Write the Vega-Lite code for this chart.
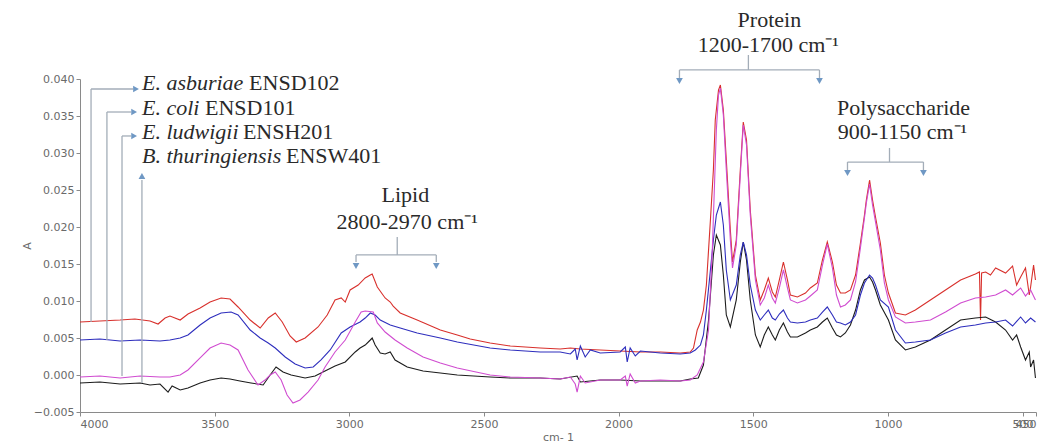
{
  "$schema": "https://vega.github.io/schema/vega-lite/v6.json",
  "width": 956,
  "height": 333,
  "autosize": "none",
  "padding": {"left": 80, "top": 79, "right": 12, "bottom": 33},
  "background": "white",
  "config": {
    "view": {"stroke": null},
    "axis": {
      "grid": false,
      "domainColor": "#8a8a8a",
      "tickColor": "#8a8a8a",
      "tickSize": 4,
      "labelColor": "#6a6a6a",
      "labelFont": "DejaVu Sans",
      "labelFontSize": 11,
      "titleFont": "DejaVu Sans",
      "titleFontSize": 11,
      "titleFontWeight": "normal",
      "titleColor": "#6a6a6a"
    }
  },
  "datasets": {
    "asburiae": [
      {"w":4000,"a":0.00716},{"w":3926,"a":0.0073},{"w":3851,"a":0.00743},{"w":3796,"a":0.00757},{"w":3740,"a":0.0073},{"w":3710,"a":0.00689},{"w":3684,"a":0.0077},{"w":3666,"a":0.00797},{"w":3628,"a":0.00743},{"w":3599,"a":0.00824},{"w":3554,"a":0.00905},{"w":3517,"a":0.00986},{"w":3476,"a":0.01041},{"w":3443,"a":0.01027},{"w":3413,"a":0.00919},{"w":3368,"a":0.00743},{"w":3331,"a":0.00635},{"w":3301,"a":0.0077},{"w":3275,"a":0.00838},{"w":3249,"a":0.00716},{"w":3220,"a":0.00527},{"w":3197,"a":0.00446},{"w":3164,"a":0.005},{"w":3116,"a":0.00649},{"w":3082,"a":0.00811},{"w":3053,"a":0.01014},{"w":3030,"a":0.01041},{"w":3015,"a":0.00986},{"w":2997,"a":0.01149},{"w":2967,"a":0.01216},{"w":2941,"a":0.01311},{"w":2922,"a":0.01351},{"w":2915,"a":0.01365},{"w":2896,"a":0.01189},{"w":2867,"a":0.01041},{"w":2848,"a":0.00986},{"w":2837,"a":0.00932},{"w":2811,"a":0.00838},{"w":2748,"a":0.00743},{"w":2662,"a":0.00608},{"w":2599,"a":0.00541},{"w":2551,"a":0.00486},{"w":2477,"a":0.00432},{"w":2402,"a":0.00392},{"w":2291,"a":0.00365},{"w":2217,"a":0.00351},{"w":2179,"a":0.00365},{"w":2142,"a":0.00351},{"w":2068,"a":0.00338},{"w":1994,"a":0.00324},{"w":1919,"a":0.00311},{"w":1845,"a":0.00311},{"w":1771,"a":0.00297},{"w":1734,"a":0.00311},{"w":1722,"a":0.00365},{"w":1708,"a":0.00608},{"w":1696,"a":0.00716},{"w":1685,"a":0.00878},{"w":1674,"a":0.01216},{"w":1659,"a":0.02095},{"w":1648,"a":0.0277},{"w":1641,"a":0.03446},{"w":1629,"a":0.03851},{"w":1622,"a":0.03919},{"w":1611,"a":0.03581},{"w":1600,"a":0.02905},{"w":1585,"a":0.01959},{"w":1577,"a":0.01527},{"w":1563,"a":0.01824},{"w":1548,"a":0.0277},{"w":1537,"a":0.03419},{"w":1525,"a":0.03176},{"w":1511,"a":0.0223},{"w":1492,"a":0.01351},{"w":1474,"a":0.01014},{"w":1459,"a":0.01149},{"w":1444,"a":0.01311},{"w":1429,"a":0.01122},{"w":1418,"a":0.01054},{"w":1403,"a":0.01284},{"w":1388,"a":0.01527},{"w":1373,"a":0.01284},{"w":1362,"a":0.01081},{"w":1336,"a":0.01054},{"w":1306,"a":0.01108},{"w":1288,"a":0.01176},{"w":1262,"a":0.01243},{"w":1243,"a":0.01554},{"w":1225,"a":0.01797},{"w":1206,"a":0.01527},{"w":1191,"a":0.01216},{"w":1176,"a":0.01108},{"w":1158,"a":0.01108},{"w":1139,"a":0.01149},{"w":1120,"a":0.01351},{"w":1102,"a":0.01784},{"w":1087,"a":0.02162},{"w":1080,"a":0.02365},{"w":1068,"a":0.02635},{"w":1057,"a":0.02365},{"w":1046,"a":0.02135},{"w":1028,"a":0.01784},{"w":1013,"a":0.01351},{"w":998,"a":0.01108},{"w":972,"a":0.00838},{"w":935,"a":0.00811},{"w":898,"a":0.00878},{"w":842,"a":0.01014},{"w":786,"a":0.01149},{"w":730,"a":0.01284},{"w":675,"a":0.01365},{"w":660,"a":0.01392},{"w":656,"a":0.00743},{"w":652,"a":0.01378},{"w":637,"a":0.01392},{"w":619,"a":0.01351},{"w":600,"a":0.01446},{"w":563,"a":0.01378},{"w":537,"a":0.01473},{"w":522,"a":0.01216},{"w":507,"a":0.01324},{"w":489,"a":0.01446},{"w":475,"a":0.01081},{"w":470,"a":0.01189},{"w":459,"a":0.01486},{"w":452,"a":0.01284}
    ],
    "coli": [
      {"w":4000,"a":0.00473},{"w":3926,"a":0.00486},{"w":3851,"a":0.00459},{"w":3777,"a":0.00473},{"w":3703,"a":0.00459},{"w":3666,"a":0.00473},{"w":3628,"a":0.005},{"w":3599,"a":0.00541},{"w":3554,"a":0.00676},{"w":3517,"a":0.0077},{"w":3476,"a":0.00838},{"w":3439,"a":0.00851},{"w":3413,"a":0.00811},{"w":3368,"a":0.00608},{"w":3331,"a":0.005},{"w":3301,"a":0.00432},{"w":3275,"a":0.00365},{"w":3238,"a":0.00243},{"w":3201,"a":0.00149},{"w":3164,"a":0.00095},{"w":3134,"a":0.00108},{"w":3105,"a":0.00203},{"w":3071,"a":0.00338},{"w":3030,"a":0.00568},{"w":2997,"a":0.00649},{"w":2960,"a":0.00716},{"w":2941,"a":0.0077},{"w":2922,"a":0.00838},{"w":2904,"a":0.00811},{"w":2885,"a":0.00743},{"w":2848,"a":0.00676},{"w":2811,"a":0.00635},{"w":2748,"a":0.00568},{"w":2662,"a":0.005},{"w":2599,"a":0.00446},{"w":2477,"a":0.00365},{"w":2402,"a":0.00338},{"w":2291,"a":0.00311},{"w":2217,"a":0.00311},{"w":2179,"a":0.00284},{"w":2161,"a":0.00351},{"w":2154,"a":0.00203},{"w":2142,"a":0.00392},{"w":2124,"a":0.00243},{"w":2105,"a":0.00338},{"w":2068,"a":0.00297},{"w":1994,"a":0.00311},{"w":1975,"a":0.00378},{"w":1968,"a":0.00176},{"w":1957,"a":0.00365},{"w":1938,"a":0.00257},{"w":1919,"a":0.00324},{"w":1845,"a":0.00297},{"w":1771,"a":0.00284},{"w":1734,"a":0.00297},{"w":1715,"a":0.00338},{"w":1696,"a":0.00405},{"w":1685,"a":0.00541},{"w":1674,"a":0.00878},{"w":1659,"a":0.01419},{"w":1648,"a":0.01824},{"w":1637,"a":0.02162},{"w":1622,"a":0.02338},{"w":1611,"a":0.02027},{"w":1600,"a":0.01419},{"w":1585,"a":0.01014},{"w":1563,"a":0.01216},{"w":1548,"a":0.01622},{"w":1537,"a":0.01797},{"w":1525,"a":0.01622},{"w":1511,"a":0.01216},{"w":1492,"a":0.00878},{"w":1474,"a":0.00743},{"w":1459,"a":0.00811},{"w":1444,"a":0.00878},{"w":1429,"a":0.0077},{"w":1418,"a":0.00743},{"w":1403,"a":0.00824},{"w":1388,"a":0.00878},{"w":1373,"a":0.0077},{"w":1362,"a":0.00716},{"w":1336,"a":0.00703},{"w":1306,"a":0.00716},{"w":1288,"a":0.00743},{"w":1262,"a":0.0077},{"w":1243,"a":0.00851},{"w":1225,"a":0.00919},{"w":1206,"a":0.00811},{"w":1191,"a":0.00716},{"w":1176,"a":0.00703},{"w":1158,"a":0.00676},{"w":1139,"a":0.00716},{"w":1120,"a":0.00811},{"w":1102,"a":0.01081},{"w":1087,"a":0.01243},{"w":1068,"a":0.01351},{"w":1057,"a":0.01311},{"w":1046,"a":0.01216},{"w":1028,"a":0.01014},{"w":998,"a":0.00919},{"w":972,"a":0.00608},{"w":935,"a":0.00432},{"w":898,"a":0.00446},{"w":842,"a":0.00473},{"w":786,"a":0.00568},{"w":730,"a":0.00649},{"w":675,"a":0.00676},{"w":637,"a":0.00703},{"w":600,"a":0.00716},{"w":563,"a":0.00743},{"w":537,"a":0.00662},{"w":507,"a":0.00784},{"w":489,"a":0.00703},{"w":470,"a":0.0077},{"w":452,"a":0.00716}
    ],
    "ludwigii": [
      {"w":4000,"a":-0.00027},{"w":3926,"a":-0.00014},{"w":3851,"a":-0.00041},{"w":3777,"a":-0.00014},{"w":3703,"a":-0.00027},{"w":3666,"a":-0.00027},{"w":3628,"a":0.0},{"w":3599,"a":0.00068},{"w":3554,"a":0.0023},{"w":3517,"a":0.00365},{"w":3476,"a":0.00432},{"w":3443,"a":0.00405},{"w":3413,"a":0.00338},{"w":3376,"a":0.00068},{"w":3339,"a":-0.00135},{"w":3313,"a":-0.00068},{"w":3294,"a":0.0},{"w":3275,"a":0.00041},{"w":3253,"a":-0.00068},{"w":3231,"a":-0.0027},{"w":3209,"a":-0.00378},{"w":3183,"a":-0.00338},{"w":3153,"a":-0.0023},{"w":3116,"a":-0.00068},{"w":3090,"a":0.00108},{"w":3053,"a":0.00311},{"w":3015,"a":0.00473},{"w":2978,"a":0.00716},{"w":2956,"a":0.00851},{"w":2941,"a":0.00865},{"w":2911,"a":0.00851},{"w":2896,"a":0.00703},{"w":2867,"a":0.00581},{"w":2830,"a":0.00473},{"w":2785,"a":0.00365},{"w":2726,"a":0.00243},{"w":2662,"a":0.00162},{"w":2599,"a":0.00095},{"w":2477,"a":0.0},{"w":2402,"a":-0.00027},{"w":2291,"a":-0.00041},{"w":2217,"a":-0.00054},{"w":2179,"a":-0.00027},{"w":2161,"a":-0.00122},{"w":2154,"a":-0.0023},{"w":2142,"a":-0.00014},{"w":2124,"a":-0.00108},{"w":2068,"a":-0.00068},{"w":1994,"a":-0.00068},{"w":1975,"a":-0.00014},{"w":1968,"a":-0.00149},{"w":1957,"a":0.00014},{"w":1938,"a":-0.00108},{"w":1919,"a":-0.00081},{"w":1845,"a":-0.00068},{"w":1771,"a":-0.00081},{"w":1734,"a":-0.00068},{"w":1708,"a":0.0},{"w":1685,"a":0.00176},{"w":1666,"a":0.00608},{"w":1652,"a":0.01689},{"w":1637,"a":0.03311},{"w":1629,"a":0.03784},{"w":1622,"a":0.03878},{"w":1611,"a":0.03514},{"w":1600,"a":0.0277},{"w":1585,"a":0.01824},{"w":1577,"a":0.01446},{"w":1563,"a":0.01757},{"w":1548,"a":0.02703},{"w":1537,"a":0.03378},{"w":1525,"a":0.03108},{"w":1511,"a":0.02162},{"w":1492,"a":0.01284},{"w":1474,"a":0.00946},{"w":1459,"a":0.01041},{"w":1444,"a":0.01216},{"w":1429,"a":0.01041},{"w":1418,"a":0.00973},{"w":1403,"a":0.01176},{"w":1388,"a":0.01419},{"w":1373,"a":0.01176},{"w":1362,"a":0.01014},{"w":1336,"a":0.00973},{"w":1306,"a":0.01014},{"w":1288,"a":0.01068},{"w":1262,"a":0.01149},{"w":1243,"a":0.01486},{"w":1225,"a":0.0177},{"w":1206,"a":0.01446},{"w":1191,"a":0.01081},{"w":1176,"a":0.00919},{"w":1158,"a":0.00946},{"w":1139,"a":0.01014},{"w":1120,"a":0.01257},{"w":1102,"a":0.01716},{"w":1087,"a":0.02122},{"w":1080,"a":0.02324},{"w":1068,"a":0.02581},{"w":1057,"a":0.02297},{"w":1046,"a":0.02068},{"w":1028,"a":0.01689},{"w":1013,"a":0.01243},{"w":998,"a":0.01014},{"w":972,"a":0.00784},{"w":935,"a":0.00703},{"w":898,"a":0.00716},{"w":842,"a":0.00743},{"w":786,"a":0.00851},{"w":730,"a":0.00973},{"w":675,"a":0.01041},{"w":637,"a":0.01054},{"w":600,"a":0.01081},{"w":563,"a":0.01149},{"w":537,"a":0.01081},{"w":507,"a":0.01176},{"w":489,"a":0.01068},{"w":470,"a":0.01149},{"w":452,"a":0.01014}
    ],
    "thuringiensis": [
      {"w":4000,"a":-0.00108},{"w":3926,"a":-0.00095},{"w":3851,"a":-0.00122},{"w":3777,"a":-0.00108},{"w":3740,"a":-0.00135},{"w":3703,"a":-0.00122},{"w":3673,"a":-0.0023},{"w":3658,"a":-0.00149},{"w":3628,"a":-0.00203},{"w":3599,"a":-0.00176},{"w":3554,"a":-0.00108},{"w":3517,"a":-0.00068},{"w":3476,"a":-0.00041},{"w":3443,"a":-0.00054},{"w":3406,"a":-0.00081},{"w":3365,"a":-0.00108},{"w":3320,"a":-0.00135},{"w":3294,"a":0.0},{"w":3272,"a":0.00108},{"w":3246,"a":0.00041},{"w":3216,"a":0.0},{"w":3164,"a":-0.00041},{"w":3127,"a":-0.00014},{"w":3105,"a":0.00027},{"w":3053,"a":0.00122},{"w":3015,"a":0.00176},{"w":2978,"a":0.00311},{"w":2960,"a":0.00365},{"w":2941,"a":0.00405},{"w":2922,"a":0.00473},{"w":2915,"a":0.005},{"w":2904,"a":0.00405},{"w":2885,"a":0.00297},{"w":2867,"a":0.00284},{"w":2848,"a":0.00311},{"w":2830,"a":0.00203},{"w":2785,"a":0.00108},{"w":2726,"a":0.00054},{"w":2662,"a":0.00027},{"w":2599,"a":0.0},{"w":2477,"a":-0.00027},{"w":2402,"a":-0.00041},{"w":2291,"a":-0.00041},{"w":2217,"a":-0.00054},{"w":2154,"a":-0.00014},{"w":2142,"a":-0.00095},{"w":2068,"a":-0.00068},{"w":1994,"a":-0.00068},{"w":1919,"a":-0.00081},{"w":1845,"a":-0.00081},{"w":1771,"a":-0.00081},{"w":1734,"a":-0.00054},{"w":1704,"a":-0.00041},{"w":1685,"a":0.00135},{"w":1666,"a":0.00743},{"w":1648,"a":0.01622},{"w":1637,"a":0.01892},{"w":1622,"a":0.01757},{"w":1611,"a":0.01351},{"w":1600,"a":0.00811},{"w":1585,"a":0.00649},{"w":1563,"a":0.01014},{"w":1548,"a":0.01527},{"w":1537,"a":0.01797},{"w":1525,"a":0.01554},{"w":1511,"a":0.01014},{"w":1492,"a":0.00541},{"w":1474,"a":0.00378},{"w":1459,"a":0.00541},{"w":1444,"a":0.00649},{"w":1429,"a":0.00541},{"w":1418,"a":0.00473},{"w":1403,"a":0.00608},{"w":1388,"a":0.00703},{"w":1373,"a":0.00581},{"w":1362,"a":0.00514},{"w":1336,"a":0.00514},{"w":1306,"a":0.00568},{"w":1288,"a":0.00608},{"w":1262,"a":0.00649},{"w":1243,"a":0.00716},{"w":1225,"a":0.0077},{"w":1206,"a":0.00635},{"w":1191,"a":0.00541},{"w":1176,"a":0.00514},{"w":1158,"a":0.00568},{"w":1139,"a":0.00676},{"w":1120,"a":0.00878},{"w":1102,"a":0.01149},{"w":1087,"a":0.01284},{"w":1068,"a":0.01324},{"w":1057,"a":0.01257},{"w":1046,"a":0.01149},{"w":1028,"a":0.00946},{"w":998,"a":0.00743},{"w":972,"a":0.00473},{"w":935,"a":0.00338},{"w":898,"a":0.00378},{"w":842,"a":0.00473},{"w":786,"a":0.00608},{"w":730,"a":0.00743},{"w":675,"a":0.0077},{"w":637,"a":0.00784},{"w":600,"a":0.00716},{"w":563,"a":0.00608},{"w":537,"a":0.00473},{"w":522,"a":0.00541},{"w":507,"a":0.00378},{"w":489,"a":0.00203},{"w":475,"a":0.00311},{"w":470,"a":0.00108},{"w":459,"a":0.00203},{"w":452,"a":-0.00041}
    ],
    "connectors": [
      {"w":3959,"a":0.00716,"w2":3959,"a2":0.03865},
      {"w":3959,"a":0.03865,"w2":3803,"a2":0.03865},
      {"w":3900,"a":0.00473,"w2":3900,"a2":0.03554},
      {"w":3900,"a":0.03554,"w2":3810,"a2":0.03554},
      {"w":3844,"a":-0.00014,"w2":3844,"a2":0.0323},
      {"w":3844,"a":0.0323,"w2":3810,"a2":0.0323},
      {"w":3770,"a":-0.00108,"w2":3770,"a2":0.02635},
      {"w":2822,"a":0.01865,"w2":2822,"a2":0.01622},
      {"w":2975,"a":0.01622,"w2":2677,"a2":0.01622},
      {"w":2975,"a":0.01622,"w2":2975,"a2":0.01527},
      {"w":2677,"a":0.01622,"w2":2677,"a2":0.01527},
      {"w":1518,"a":0.04324,"w2":1518,"a2":0.04122},
      {"w":1774,"a":0.04122,"w2":1254,"a2":0.04122},
      {"w":1774,"a":0.04122,"w2":1774,"a2":0.04014},
      {"w":1254,"a":0.04122,"w2":1254,"a2":0.04014},
      {"w":994,"a":0.03068,"w2":994,"a2":0.02878},
      {"w":1150,"a":0.02878,"w2":868,"a2":0.02878},
      {"w":1150,"a":0.02878,"w2":1150,"a2":0.0277},
      {"w":868,"a":0.02878,"w2":868,"a2":0.0277}
    ],
    "arrowheads": [
      {"w":3792,"a":0.03865,"sh":"triangle-right"},
      {"w":3799,"a":0.03554,"sh":"triangle-right"},
      {"w":3799,"a":0.0323,"sh":"triangle-right"},
      {"w":3770,"a":0.02689,"sh":"triangle-up"},
      {"w":2975,"a":0.01473,"sh":"triangle-down"},
      {"w":2677,"a":0.01473,"sh":"triangle-down"},
      {"w":1774,"a":0.03973,"sh":"triangle-down"},
      {"w":1254,"a":0.03973,"sh":"triangle-down"},
      {"w":1150,"a":0.0273,"sh":"triangle-down"},
      {"w":868,"a":0.0273,"sh":"triangle-down"}
    ],
    "species": [
      {"w":3770,"a":0.03946,"t":"E. asburiae"},
      {"w":3770,"a":0.03608,"t":"E. coli"},
      {"w":3770,"a":0.03284,"t":"E. ludwigii"},
      {"w":3770,"a":0.02959,"t":"B. thuringiensis"}
    ],
    "strains": [
      {"w":3372,"a":0.03946,"t":"ENSD102"},
      {"w":3536,"a":0.03608,"t":"ENSD101"},
      {"w":3395,"a":0.03284,"t":"ENSH201"},
      {"w":3235,"a":0.02959,"t":"ENSW401"}
    ],
    "regions": [
      {"w":2792,"a":0.02432,"t":"Lipid"},
      {"w":2785,"a":0.02068,"t":"2800-2970 cm⁻¹"},
      {"w":1440,"a":0.04797,"t":"Protein"},
      {"w":1444,"a":0.04459,"t":"1200-1700 cm⁻¹"},
      {"w":942,"a":0.03608,"t":"Polysaccharide"},
      {"w":946,"a":0.03284,"t":"900-1150 cm⁻¹"}
    ]
  },
  "encoding": {
    "x": {
      "field": "w", "type": "quantitative",
      "scale": {"domain": [450, 4000], "reverse": true, "nice": false, "zero": false},
      "axis": {"title": "cm- 1", "values": [4000, 3500, 3000, 2500, 2000, 1500, 1000, 500, 450], "format": "d", "titlePadding": 2, "labelOverlap": false}
    },
    "y": {
      "field": "a", "type": "quantitative",
      "scale": {"domain": [-0.005, 0.04], "nice": false, "zero": false},
      "axis": {"title": "A", "values": [-0.005, 0, 0.005, 0.01, 0.015, 0.02, 0.025, 0.03, 0.035, 0.04], "format": ".3f", "titlePadding": 1}
    }
  },
  "layer": [
    {"data": {"name": "asburiae"}, "mark": {"type": "line", "color": "#d8302c", "strokeWidth": 1.1}},
    {"data": {"name": "thuringiensis"}, "mark": {"type": "line", "color": "#1c1c1c", "strokeWidth": 1.1}},
    {"data": {"name": "coli"}, "mark": {"type": "line", "color": "#2e2ebd", "strokeWidth": 1.1}},
    {"data": {"name": "ludwigii"}, "mark": {"type": "line", "color": "#d04cd0", "strokeWidth": 1.1}},
    {"data": {"name": "connectors"}, "mark": {"type": "rule", "color": "#a3adb8", "strokeWidth": 1.3},
     "encoding": {"x2": {"field": "w2"}, "y2": {"field": "a2"}}},
    {"data": {"name": "arrowheads"}, "mark": {"type": "point", "filled": true, "color": "#6f98c4", "size": 45, "opacity": 1},
     "encoding": {"shape": {"field": "sh", "type": "nominal", "scale": null}}},
    {"data": {"name": "species"}, "mark": {"type": "text", "align": "left", "baseline": "middle", "font": "Liberation Serif", "fontStyle": "italic", "fontSize": 22, "color": "#2a2a2a"},
     "encoding": {"text": {"field": "t"}}},
    {"data": {"name": "strains"}, "mark": {"type": "text", "align": "left", "baseline": "middle", "font": "Liberation Serif", "fontSize": 22, "color": "#2a2a2a"},
     "encoding": {"text": {"field": "t"}}},
    {"data": {"name": "regions"}, "mark": {"type": "text", "align": "center", "baseline": "middle", "font": "Liberation Serif", "fontSize": 22, "color": "#2a2a2a"},
     "encoding": {"text": {"field": "t"}}}
  ]
}
